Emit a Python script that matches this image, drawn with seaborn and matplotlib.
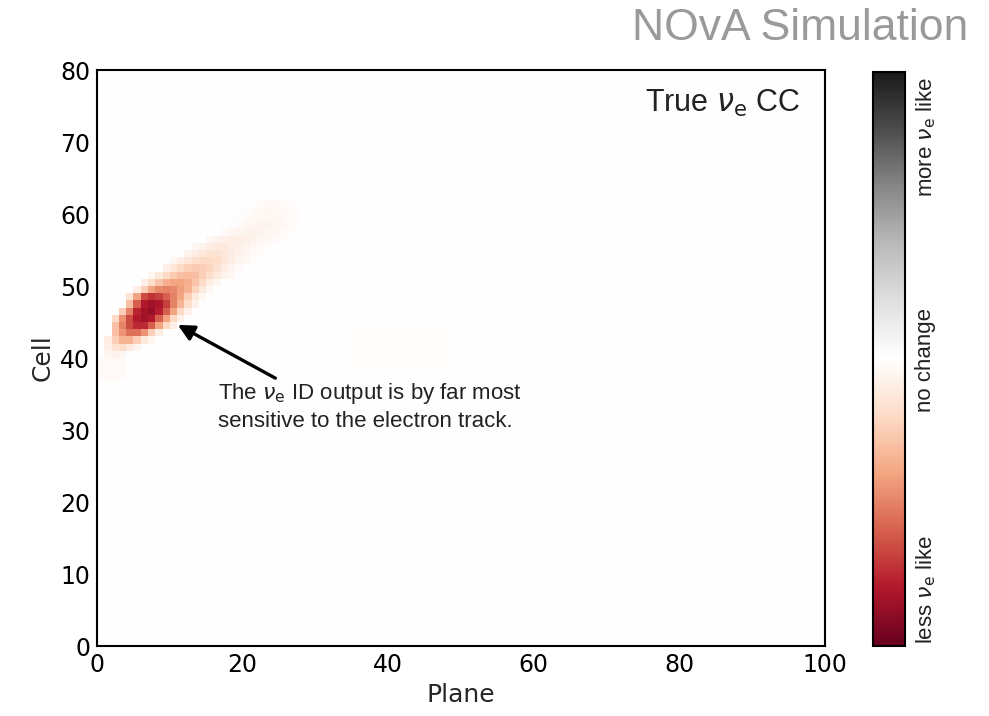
import numpy as np
import pandas as pd
import seaborn as sns
import matplotlib
matplotlib.use("Agg")
import matplotlib.pyplot as plt

sns.set_style("white")
plt.rcParams['font.family'] = ['DejaVu Sans']

n_planes = 100
n_cells = 80

# Electron track: for each cell row, the first plane and the sensitivity values
track_cell = [40, 41, 42, 43, 44, 45, 46, 47, 48, 49, 50, 51, 52, 53, 54, 55, 56, 57, 58, 59, 60, 61]
track_first_plane = [1, 1, 1, 2, 2, 2, 3, 4, 4, 5, 6, 7, 9, 10, 12, 13, 15, 17, 19, 20, 21, 22]
track_values = [
    [-0.05, -0.07, -0.05],
    [-0.08, -0.15, -0.18, -0.12, -0.06],
    [-0.10, -0.25, -0.35, -0.35, -0.25, -0.12, -0.05],
    [-0.30, -0.45, -0.55, -0.55, -0.45, -0.25, -0.10],
    [-0.30, -0.50, -0.65, -0.75, -0.75, -0.60, -0.40, -0.20, -0.08],
    [-0.20, -0.45, -0.65, -0.80, -0.84, -0.80, -0.60, -0.40, -0.20, -0.08],
    [-0.25, -0.50, -0.76, -0.84, -0.87, -0.78, -0.60, -0.40, -0.20, -0.08],
    [-0.30, -0.60, -0.80, -0.85, -0.82, -0.68, -0.50, -0.35, -0.18, -0.08],
    [-0.15, -0.40, -0.65, -0.72, -0.68, -0.60, -0.50, -0.40, -0.25, -0.12, -0.05],
    [-0.10, -0.25, -0.40, -0.48, -0.50, -0.48, -0.42, -0.35, -0.22, -0.12, -0.05],
    [-0.08, -0.18, -0.28, -0.36, -0.40, -0.40, -0.36, -0.28, -0.20, -0.10, -0.05],
    [-0.05, -0.12, -0.20, -0.26, -0.30, -0.32, -0.30, -0.25, -0.18, -0.12, -0.07, -0.04],
    [-0.08, -0.14, -0.20, -0.24, -0.26, -0.25, -0.22, -0.16, -0.10, -0.06, -0.03],
    [-0.05, -0.10, -0.14, -0.18, -0.20, -0.20, -0.18, -0.14, -0.10, -0.06, -0.04, -0.02],
    [-0.06, -0.10, -0.13, -0.15, -0.15, -0.13, -0.10, -0.07, -0.05, -0.03, -0.02],
    [-0.04, -0.07, -0.10, -0.12, -0.12, -0.10, -0.08, -0.06, -0.04, -0.03, -0.02],
    [-0.04, -0.06, -0.08, -0.09, -0.09, -0.08, -0.07, -0.05, -0.04, -0.03, -0.02],
    [-0.03, -0.05, -0.06, -0.07, -0.07, -0.06, -0.05, -0.04, -0.03, -0.02],
    [-0.03, -0.04, -0.05, -0.06, -0.06, -0.05, -0.04, -0.03, -0.02],
    [-0.03, -0.04, -0.05, -0.05, -0.05, -0.04, -0.03, -0.02],
    [-0.03, -0.04, -0.04, -0.04, -0.03, -0.02, -0.02],
    [-0.02, -0.03, -0.03, -0.03, -0.02],
]

# Faint diffuse patches (plane range, cell range, value)
patch_plane_lo = [7, 7, 15, 0, 35, 6, 6, 12]
patch_plane_hi = [13, 12, 20, 3, 48, 19, 10, 18]
patch_cell_lo = [68, 62, 58, 37, 38, 20, 12, 26]
patch_cell_hi = [73, 65, 61, 39, 44, 33, 17, 32]
patch_value = [0.015, 0.015, 0.012, -0.03, -0.015, 0.01, 0.012, 0.015]

grid = np.zeros((n_cells, n_planes))
for p0, p1, c0, c1, v in zip(patch_plane_lo, patch_plane_hi, patch_cell_lo, patch_cell_hi, patch_value):
    grid[c0:c1 + 1, p0:p1 + 1] = v
for c, p0, vals in zip(track_cell, track_first_plane, track_values):
    grid[c, p0:p0 + len(vals)] = vals

df = pd.DataFrame(grid, index=range(n_cells), columns=range(n_planes))

x_ticks = [0, 20, 40, 60, 80, 100]
y_ticks = [0, 10, 20, 30, 40, 50, 60, 70, 80]

fig = plt.figure(figsize=(9.89, 7.16), dpi=100)
ax = fig.add_axes([97 / 989, 70 / 716, 728 / 989, 576 / 716])
cax = fig.add_axes([873 / 989, 70 / 716, 32 / 989, 574 / 716])

sns.heatmap(df, ax=ax, cbar_ax=cax, cmap="RdGy", vmin=-1, vmax=1,
            xticklabels=False, yticklabels=False)

ax.set_xlim(0, n_planes)
ax.set_ylim(0, n_cells)
ax.set_xticks(x_ticks)
ax.set_xticklabels([str(t) for t in x_ticks])
ax.set_yticks(y_ticks)
ax.set_yticklabels([str(t) for t in y_ticks], rotation=0)
ax.tick_params(direction='in', length=6, width=1.2, labelsize=17, top=True, right=True,
               bottom=True, left=True, colors='black', pad=5)
for s in ax.spines.values():
    s.set_visible(True)
    s.set_linewidth(1.5)
    s.set_color('black')
ax.set_xlabel("Plane", fontsize=18, labelpad=4)
ax.set_ylabel("Cell", fontsize=18, labelpad=4)

cb = ax.collections[0].colorbar
cb.outline.set_visible(True)
cb.outline.set_linewidth(1.5)
cb.outline.set_edgecolor('black')
cb.set_ticks([])

lab_font = ['Liberation Sans', 'DejaVu Sans']
fig.text(926 / 989, 1 - 137 / 716, r"more $\nu_\mathrm{e}$ like", rotation=90, ha='center',
         va='center', fontsize=16, family=lab_font, color='#222222')
fig.text(926 / 989, 1 - 360 / 716, "no change", rotation=90, ha='center', va='center',
         fontsize=16, family=lab_font, color='#222222')
fig.text(926 / 989, 1 - 590 / 716, r"less $\nu_\mathrm{e}$ like", rotation=90, ha='center',
         va='center', fontsize=16, family=lab_font, color='#222222')

fig.text(968 / 989, 1 - 28 / 716, "NOvA Simulation", ha='right', va='center', fontsize=32,
         family=lab_font, color='#9a9a9a')

ax.text(96.6, 75.4, r"True $\nu_\mathrm{e}$ CC", ha='right', va='center', fontsize=22,
        family=lab_font, color='#222222')

ax.text(16.6, 33.3, "The $\\nu_\\mathrm{e}$ ID output is by far most\nsensitive to the electron track.",
        ha='left', va='center', fontsize=16, family=lab_font, color='#222222', linespacing=1.3)

ax.annotate('', xy=(11.1, 44.6), xytext=(24.5, 37.2),
            arrowprops=dict(arrowstyle='-|>', lw=2.4, color='black', mutation_scale=24,
                            shrinkA=0, shrinkB=0))

fig.savefig("out.png", dpi=100)
